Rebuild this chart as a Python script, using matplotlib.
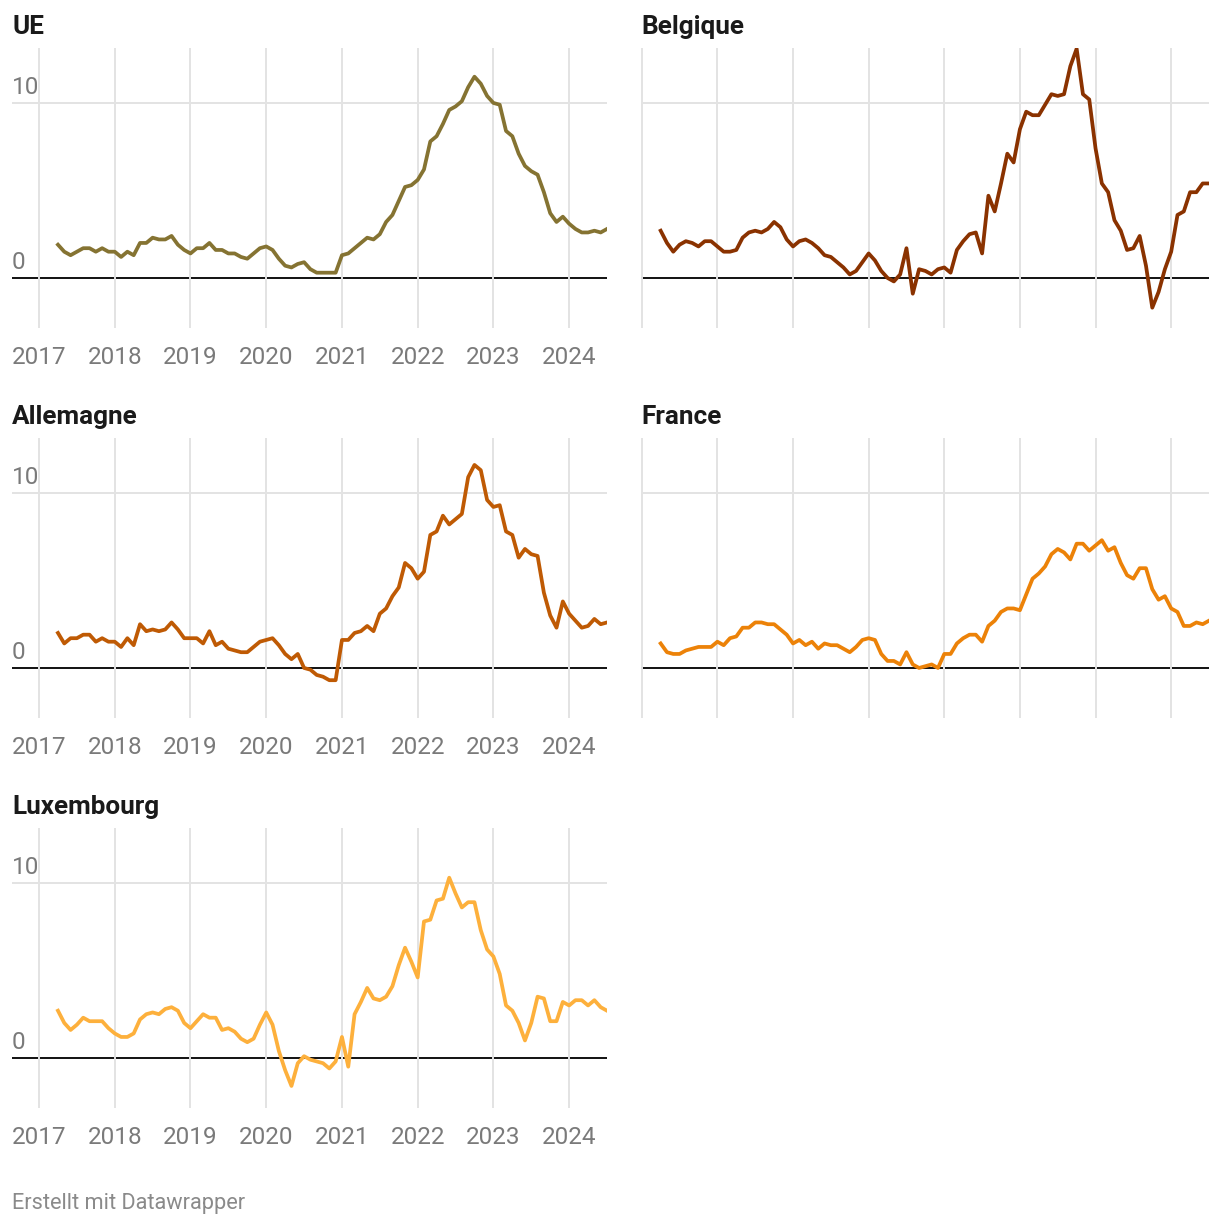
import matplotlib.pyplot as plt
import pandas as pd

plt.rcParams['font.family'] = ['Roboto', 'DejaVu Sans']

# monthly HICP rates, April 2017 - July 2024
months = pd.date_range("2017-04-01", "2024-07-01", freq="MS")
x = months.year + (months.month - 1) / 12
years = list(range(2017, 2025))

ue = [1.9, 1.5, 1.3, 1.5, 1.7, 1.7, 1.5, 1.7, 1.5,
      1.5, 1.2, 1.5, 1.3, 2.0, 2.0, 2.3, 2.2, 2.2, 2.4, 1.9, 1.6,
      1.4, 1.7, 1.7, 2.0, 1.6, 1.6, 1.4, 1.4, 1.2, 1.1, 1.4, 1.7,
      1.8, 1.6, 1.1, 0.7, 0.6, 0.8, 0.9, 0.5, 0.3, 0.3, 0.3, 0.3,
      1.3, 1.4, 1.7, 2.0, 2.3, 2.2, 2.5, 3.2, 3.6, 4.4, 5.2, 5.3,
      5.6, 6.2, 7.8, 8.1, 8.8, 9.6, 9.8, 10.1, 10.9, 11.5, 11.1, 10.4,
      10.0, 9.9, 8.4, 8.1, 7.1, 6.4, 6.1, 5.9, 4.9, 3.7, 3.2, 3.5,
      3.1, 2.8, 2.6, 2.6, 2.7, 2.6, 2.8]

belgique = [2.7, 2.0, 1.5, 1.9, 2.1, 2.0, 1.8, 2.1, 2.1,
            1.8, 1.5, 1.5, 1.6, 2.3, 2.6, 2.7, 2.6, 2.8, 3.2, 2.9, 2.2,
            1.8, 2.1, 2.2, 2.0, 1.7, 1.3, 1.2, 0.9, 0.6, 0.2, 0.4, 0.9,
            1.4, 1.0, 0.4, 0.0, -0.2, 0.2, 1.7, -0.9, 0.5, 0.4, 0.2, 0.5,
            0.6, 0.3, 1.6, 2.1, 2.5, 2.6, 1.4, 4.7, 3.8, 5.4, 7.1, 6.6,
            8.5, 9.5, 9.3, 9.3, 9.9, 10.5, 10.4, 10.5, 12.1, 13.1, 10.5, 10.2,
            7.4, 5.4, 4.9, 3.3, 2.7, 1.6, 1.7, 2.4, 0.7, -1.7, -0.8, 0.5,
            1.5, 3.6, 3.8, 4.9, 4.9, 5.4, 5.4]

allemagne = [2.0, 1.4, 1.7, 1.7, 1.9, 1.9, 1.5, 1.7, 1.5,
             1.5, 1.2, 1.7, 1.3, 2.5, 2.1, 2.2, 2.1, 2.2, 2.6, 2.2, 1.7,
             1.7, 1.7, 1.4, 2.1, 1.3, 1.5, 1.1, 1.0, 0.9, 0.9, 1.2, 1.5,
             1.6, 1.7, 1.3, 0.8, 0.5, 0.8, 0.0, -0.1, -0.4, -0.5, -0.7, -0.7,
             1.6, 1.6, 2.0, 2.1, 2.4, 2.1, 3.1, 3.4, 4.1, 4.6, 6.0, 5.7,
             5.1, 5.5, 7.6, 7.8, 8.7, 8.2, 8.5, 8.8, 10.9, 11.6, 11.3, 9.6,
             9.2, 9.3, 7.8, 7.6, 6.3, 6.8, 6.5, 6.4, 4.3, 3.0, 2.3, 3.8,
             3.1, 2.7, 2.3, 2.4, 2.8, 2.5, 2.6]

france = [1.4, 0.9, 0.8, 0.8, 1.0, 1.1, 1.2, 1.2, 1.2,
          1.5, 1.3, 1.7, 1.8, 2.3, 2.3, 2.6, 2.6, 2.5, 2.5, 2.2, 1.9,
          1.4, 1.6, 1.3, 1.5, 1.1, 1.4, 1.3, 1.3, 1.1, 0.9, 1.2, 1.6,
          1.7, 1.6, 0.8, 0.4, 0.4, 0.2, 0.9, 0.2, 0.0, 0.1, 0.2, 0.0,
          0.8, 0.8, 1.4, 1.7, 1.9, 1.9, 1.5, 2.4, 2.7, 3.2, 3.4, 3.4,
          3.3, 4.2, 5.1, 5.4, 5.8, 6.5, 6.8, 6.6, 6.2, 7.1, 7.1, 6.7,
          7.0, 7.3, 6.7, 6.9, 6.0, 5.3, 5.1, 5.7, 5.7, 4.5, 3.9, 4.1,
          3.4, 3.2, 2.4, 2.4, 2.6, 2.5, 2.7]

luxembourg = [2.7, 2.0, 1.6, 1.9, 2.3, 2.1, 2.1, 2.1, 1.7,
              1.4, 1.2, 1.2, 1.4, 2.2, 2.5, 2.6, 2.5, 2.8, 2.9, 2.7, 2.0,
              1.7, 2.1, 2.5, 2.3, 2.3, 1.6, 1.7, 1.5, 1.1, 0.9, 1.1, 1.9,
              2.6, 1.9, 0.4, -0.7, -1.6, -0.3, 0.1, -0.1, -0.2, -0.3, -0.6, -0.2,
              1.2, -0.5, 2.5, 3.2, 4.0, 3.4, 3.3, 3.5, 4.1, 5.3, 6.3, 5.5,
              4.6, 7.8, 7.9, 9.0, 9.1, 10.3, 9.4, 8.6, 8.9, 8.9, 7.3, 6.2,
              5.8, 4.8, 3.0, 2.7, 2.0, 1.0, 2.0, 3.5, 3.4, 2.1, 2.1, 3.2,
              3.0, 3.3, 3.3, 3.0, 3.3, 2.9, 2.7]

W, H = 1220, 1226
fig = plt.figure(figsize=(W / 100, H / 100), dpi=100)

GRAY = '#7a7a7a'
GRID = '#e3e3e3'


def panel(left, top, width, x0, title, values, color, labels):
    ax = fig.add_axes([left / W, 1 - (top + 280) / H, width / W, 280 / H])
    ax.set_xlim(x0, 2024.5)
    ax.set_ylim(-2.86, 13.14)
    ax.set_xticks(years)
    ax.set_yticks([10])
    ax.grid(True, color=GRID, lw=1.4, zorder=0)
    ax.axhline(0, color='#111111', lw=1.4, zorder=1)
    ax.plot(x, values, color=color, lw=2.7, solid_joinstyle='round', zorder=2)
    for s in ax.spines.values():
        s.set_visible(False)
    ax.tick_params(length=0, labelbottom=False, labelleft=False)
    fig.text(left / W, 1 - (top - 14) / H, title, fontsize=18.8,
             fontweight='bold', color='#1a1a1a', va='baseline')
    if labels:
        for v in (10, 0):
            ax.annotate(str(v), xy=(0, v), xycoords=('axes fraction', 'data'),
                        xytext=(0, 6.8), textcoords='offset points',
                        va='baseline', ha='left', fontsize=17.5, color=GRAY)
        for yr in years:
            ax.annotate(str(yr), xy=(yr, 0), xycoords=('data', 'axes fraction'),
                        xytext=(0, -25.9), textcoords='offset points',
                        va='baseline', ha='center', fontsize=17.5, color=GRAY,
                        annotation_clip=False)
    return ax


panel(12, 48, 595, 2016.643, 'UE', ue, '#857332', True)
panel(641, 48, 568, 2016.99, 'Belgique', belgique, '#8a3200', False)
panel(12, 438, 595, 2016.643, 'Allemagne', allemagne, '#bf5a04', True)
panel(641, 438, 568, 2016.99, 'France', france, '#ec8208', False)
panel(12, 828, 595, 2016.643, 'Luxembourg', luxembourg, '#fdb03c', True)

fig.text(12 / W, 1 - 1209 / H, 'Erstellt mit Datawrapper', fontsize=15.7,
         color='#8a8a8a', va='baseline')

fig.savefig('out.png', dpi=100)
